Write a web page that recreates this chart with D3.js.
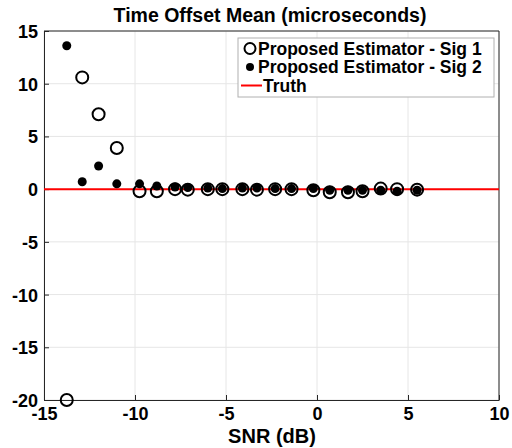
<!DOCTYPE html>
<html>
<head>
<meta charset="utf-8">
<script src="https://cdn.jsdelivr.net/npm/d3@7"></script>
<style>
  body { margin: 0; background: #fff; }
  text { font-family: "Liberation Sans", Arial, sans-serif; font-weight: bold; }
</style>
</head>
<body>
<svg id="chart"></svg>
<script>
// ===== data =====
const snr = [-13.75, -12.9, -12.0, -11.0, -9.75, -8.8, -7.8, -7.1, -6.0, -5.2, -4.1, -3.3, -2.3, -1.4, -0.2, 0.7, 1.7, 2.5, 3.5, 4.4, 5.5];
const sig1 = [-20, 10.6, 7.1, 3.9, -0.2, -0.2, 0.0, -0.05, 0.0, 0.0, 0.0, -0.05, 0.0, 0.0, -0.1, -0.3, -0.3, -0.2, 0.05, 0.0, -0.05];
const sig2 = [13.6, 0.7, 2.2, 0.5, 0.5, 0.3, 0.2, 0.15, 0.1, 0.05, 0.1, 0.1, 0.05, 0.05, 0.05, -0.1, -0.1, -0.1, -0.1, -0.2, -0.1];
const truth = [0, 0];
const xTicks = [-15, -10, -5, 0, 5, 10];
const yTicks = [15, 10, 5, 0, -5, -10, -15, -20];
const legendLabels = ["Proposed Estimator - Sig 1", "Proposed Estimator - Sig 2", "Truth"];

const width = 512, height = 448;
const margin = {left: 44, right: 13, top: 31, bottom: 48};

const svg = d3.select("#chart").attr("width", width).attr("height", height);

const x = d3.scaleLinear().domain([-15, 10]).range([margin.left, width - margin.right]);
const y = d3.scaleLinear().domain([-20, 15]).range([height - margin.bottom, margin.top]);

// ===== grid =====
svg.append("g").selectAll("line").data(xTicks).enter().append("line")
  .attr("x1", d => x(d)).attr("x2", d => x(d))
  .attr("y1", y(-20)).attr("y2", y(15))
  .attr("stroke", "#e6e6e6").attr("stroke-width", 1);
svg.append("g").selectAll("line").data(yTicks).enter().append("line")
  .attr("x1", x(-15)).attr("x2", x(10))
  .attr("y1", d => y(d)).attr("y2", d => y(d))
  .attr("stroke", "#e6e6e6").attr("stroke-width", 1);

// ===== axes =====
const fmt = d => String(d);
const xAxis = svg.append("g").attr("transform", "translate(0," + y(-20) + ")")
  .call(d3.axisBottom(x).tickValues(xTicks).tickFormat(fmt).tickSizeInner(-5).tickSizeOuter(0).tickPadding(7));
const yAxis = svg.append("g").attr("transform", "translate(" + x(-15) + ",0)")
  .call(d3.axisLeft(y).tickValues(yTicks).tickFormat(fmt).tickSizeInner(-5).tickSizeOuter(0).tickPadding(6));
[xAxis, yAxis].forEach(a => {
  a.select(".domain").attr("stroke", "#262626");
  a.selectAll(".tick line").attr("stroke", "#262626");
  a.selectAll("text").attr("font-size", 18).attr("fill", "#000")
    .style("font-family", "Liberation Sans, Arial, sans-serif").style("font-weight", "bold");
});
yAxis.selectAll("text").attr("dy", "0.36em");

// box top/right
svg.append("line").attr("x1", x(-15)).attr("x2", x(10)).attr("y1", y(15)).attr("y2", y(15)).attr("stroke", "#262626");
svg.append("line").attr("x1", x(10)).attr("x2", x(10)).attr("y1", y(15)).attr("y2", y(-20)).attr("stroke", "#262626");

// ===== truth line =====
svg.append("line")
  .attr("x1", x(-15)).attr("x2", x(10))
  .attr("y1", y(truth[0])).attr("y2", y(truth[1]))
  .attr("stroke", "#ff0000").attr("stroke-width", 2);

// ===== points =====
const pts1 = snr.map((s, i) => ({x: s, y: sig1[i]}));
const pts2 = snr.map((s, i) => ({x: s, y: sig2[i]}));

svg.append("g").selectAll("circle").data(pts2).enter().append("circle")
  .attr("cx", d => x(d.x)).attr("cy", d => y(d.y)).attr("r", 4.5)
  .attr("fill", "#000");

svg.append("g").selectAll("circle").data(pts1).enter().append("circle")
  .attr("cx", d => x(d.x)).attr("cy", d => y(d.y)).attr("r", 6)
  .attr("fill", "none").attr("stroke", "#000").attr("stroke-width", 2);

// ===== title and label =====
svg.append("text").attr("x", 270).attr("y", 22).attr("text-anchor", "middle")
  .attr("font-size", 19.5).text("Time Offset Mean (microseconds)");
svg.append("text").attr("x", 272).attr("y", 443).attr("text-anchor", "middle")
  .attr("font-size", 20).text("SNR (dB)");

// ===== legend =====
const lg = svg.append("g").attr("transform", "translate(238,38)");
lg.append("rect").attr("width", 256).attr("height", 59)
  .attr("fill", "#fff").attr("stroke", "#b0b0b0").attr("stroke-width", 1);
const ly = [10.5, 29, 47.5];
lg.append("circle").attr("cx", 12).attr("cy", ly[0]).attr("r", 5.5)
  .attr("fill", "none").attr("stroke", "#000").attr("stroke-width", 2);
lg.append("circle").attr("cx", 12).attr("cy", ly[1]).attr("r", 4).attr("fill", "#000");
lg.append("line").attr("x1", 3).attr("x2", 24).attr("y1", ly[2]).attr("y2", ly[2])
  .attr("stroke", "#ff0000").attr("stroke-width", 2);
lg.selectAll("text.lab").data(legendLabels).enter().append("text")
  .attr("class", "lab")
  .attr("x", (d, i) => i === 2 ? 25 : 20).attr("y", (d, i) => ly[i]).attr("dy", "0.36em")
  .attr("font-size", 17.5).text(d => d);
</script>
</body>
</html>
